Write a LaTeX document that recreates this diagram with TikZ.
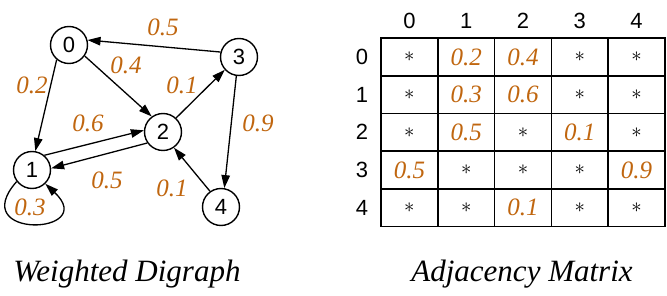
\documentclass[tikz,border=0pt]{standalone}
\usepackage{fontspec}
\setmainfont{Liberation Serif}
\setsansfont{Liberation Sans}
\usepackage{tikz}
\usetikzlibrary{arrows.meta,positioning}
\definecolor{cwt}{HTML}{C0660F}
\tikzset{
  vtx/.style={circle, draw, line width=1.4pt, minimum size=37pt, inner sep=0pt,
    font=\sffamily\fontsize{22}{24}\selectfont},
  wt/.style={text=cwt, inner sep=0pt, font=\itshape\fontsize{25}{27}\selectfont},
  hdr/.style={inner sep=0pt, font=\sffamily\fontsize{22}{24}\selectfont},
  cell/.style={rectangle, draw, line width=1.6pt, minimum width=56.8pt,
    minimum height=37.7pt, inner sep=0pt},
  capt/.style={anchor=base, inner sep=0pt, font=\itshape\fontsize{31}{33}\selectfont},
  arr/.style={-{Triangle[length=13pt,width=8.5pt]}, line width=1.3pt},
}
\newcommand{\st}{\fontsize{22}{24}\selectfont$\ast$}
\newcommand{\wv}[1]{\textcolor{cwt}{\itshape\fontsize{25}{27}\selectfont #1}}

\begin{document}
\begin{tikzpicture}[x=1pt, y=1pt]
  \useasboundingbox (0,0) rectangle (667,-296);

  % weighted digraph
  \node[vtx] (n0) at (69,-45) {0};
  \node[vtx] (n1) at (32,-170) {1};
  \node[vtx] (n2) at (163,-132) {2};
  \node[vtx] (n3) at (239,-57) {3};
  \node[vtx] (n4) at (221,-207) {4};

  \draw[arr] (n3.165) -- (n0.15);
  \draw[arr] (n0.230) -- (n1.80);
  \draw[arr] (n0.-35) -- (n2.126);
  \draw[arr] (n2.47) -- (n3.222);
  \draw[arr] (n1.50) -- (n2.175);
  \draw[arr] (n2.215) -- (n1.5);
  \draw[arr] (n3.262) -- (n4.80);
  \draw[arr] (n4.125) -- (n2.-55);
  \draw[arr] (n1.217) .. controls (-35,-240) and (100,-235) .. (n1.-46);

  \node[wt] (w30) at (163,-27) {0.5};
  \node[wt] (w02) at (126,-65) {0.4};
  \node[wt] (w01) at (32,-85) {0.2};
  \node[wt] (w23) at (182,-85) {0.1};
  \node[wt] (w12) at (88,-123) {0.6};
  \node[wt] (w34) at (258,-123) {0.9};
  \node[wt] (w21) at (107,-180) {0.5};
  \node[wt] (w42) at (172,-188) {0.1};
  \node[wt] (w11) at (30,-207) {0.3};

  % adjacency matrix
  \foreach \k in {0,...,4} {
    \node[hdr] (col\k) at (409.4+56.8*\k,-20.5) {\k};
    \node[hdr] (row\k) at (362,-56.9-37.7*\k) {\k};
  }
  \foreach \r [count=\i from 0] in {
      {\st,\wv{0.2},\wv{0.4},\st,\st},
      {\st,\wv{0.3},\wv{0.6},\st,\st},
      {\st,\wv{0.5},\st,\wv{0.1},\st},
      {\wv{0.5},\st,\st,\st,\wv{0.9}},
      {\st,\st,\wv{0.1},\st,\st}} {
    \foreach \v [count=\j from 0] in \r
      \node[cell] (c\i\j) at (409.4+56.8*\j,-56.9-37.7*\i) {\v};
  }

  \node[capt] (capg) at (127,-282) {Weighted Digraph};
  \node[capt] (capm) at (522,-282) {Adjacency Matrix};
\end{tikzpicture}
\end{document}
